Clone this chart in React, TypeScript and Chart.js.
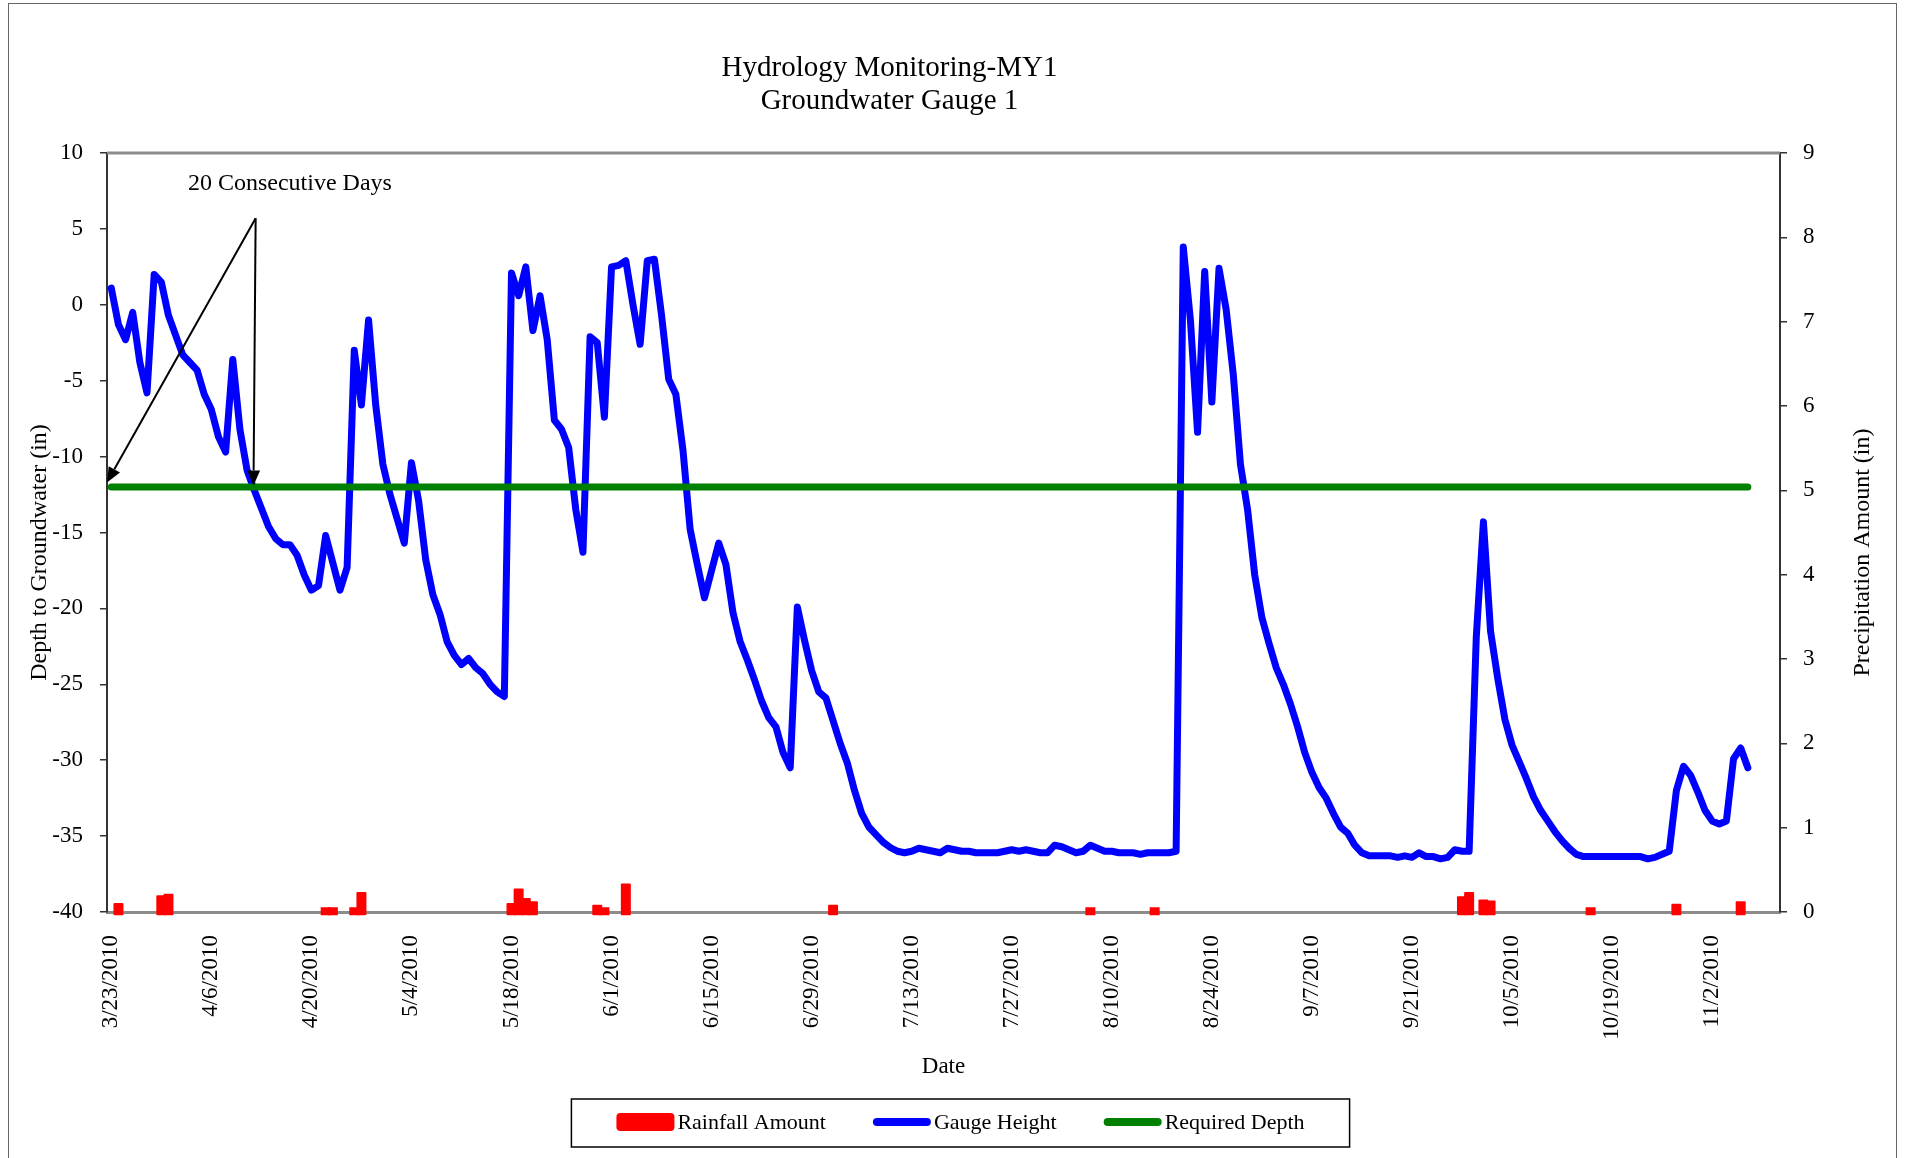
import React, { useEffect, useRef } from "react";
import { Chart, registerables } from "chart.js";

Chart.register(...registerables);

// ---------- data ----------
const START_DATE = "3/23/2010";

const xTickLabels = [
  "3/23/2010", "4/6/2010", "4/20/2010", "5/4/2010", "5/18/2010", "6/1/2010",
  "6/15/2010", "6/29/2010", "7/13/2010", "7/27/2010", "8/10/2010", "8/24/2010",
  "9/7/2010", "9/21/2010", "10/5/2010", "10/19/2010", "11/2/2010",
];

// Gauge height (in), one reading per day starting 3/23/2010
const gaugeHeight = [
  1.1, -1.3, -2.3, -0.5, -3.8, -5.8, 2.0, 1.5, -0.7, -2.0,
  -3.3, -3.8, -4.3, -5.9, -6.9, -8.7, -9.7, -3.6, -8.2, -10.9,
  -12.2, -13.4, -14.6, -15.4, -15.8, -15.8, -16.5, -17.8, -18.8, -18.5,
  -15.2, -17.0, -18.8, -17.3, -3.0, -6.6, -1.0, -6.6, -10.5, -12.5,
  -14.1, -15.7, -10.4, -12.9, -16.8, -19.1, -20.4, -22.2, -23.1, -23.7,
  -23.3, -23.9, -24.3, -25.0, -25.5, -25.8, 2.1, 0.6, 2.5, -1.7,
  0.6, -2.3, -7.6, -8.2, -9.4, -13.5, -16.3, -2.1, -2.5, -7.4,
  2.5, 2.6, 2.9, 0.0, -2.6, 2.9, 3.0, -0.7, -4.9, -5.9,
  -9.6, -14.8, -17.1, -19.3, -17.5, -15.7, -17.1, -20.3, -22.2, -23.4,
  -24.7, -26.1, -27.2, -27.8, -29.5, -30.5, -19.9, -22.1, -24.1, -25.5,
  -25.9, -27.4, -28.9, -30.2, -32.0, -33.5, -34.4, -34.9, -35.4, -35.75,
  -36.0, -36.1, -36.0, -35.8, -35.9, -36.0, -36.1, -35.8, -35.9, -36.0,
  -36.0, -36.1, -36.1, -36.1, -36.1, -36.0, -35.9, -36.0, -35.9, -36.0,
  -36.1, -36.1, -35.6, -35.7, -35.9, -36.1, -36.0, -35.6, -35.8, -36.0,
  -36.0, -36.1, -36.1, -36.1, -36.2, -36.1, -36.1, -36.1, -36.1, -36.0,
  3.8, -1.0, -8.4, 2.2, -6.4, 2.4, -0.3, -4.6, -10.5, -13.5,
  -17.8, -20.6, -22.3, -23.9, -25.0, -26.3, -27.8, -29.5, -30.8, -31.8,
  -32.5, -33.5, -34.4, -34.8, -35.6, -36.1, -36.3, -36.3, -36.3, -36.3,
  -36.4, -36.3, -36.4, -36.1, -36.35, -36.35, -36.5, -36.4, -35.9, -36.0,
  -36.0, -21.9, -14.3, -21.5, -24.6, -27.3, -29.0, -30.1, -31.2, -32.4,
  -33.3, -34.0, -34.7, -35.3, -35.8, -36.2, -36.35, -36.35, -36.35, -36.35,
  -36.35, -36.35, -36.35, -36.35, -36.35, -36.5, -36.4, -36.2, -36.0, -32.0,
  -30.4, -31.0, -32.1, -33.3, -34.0, -34.2, -34.0, -29.9, -29.2, -30.5,
];

const REQUIRED_DEPTH = -12;

// Rainfall (in): dates and amounts
const rainDates = [
  "3/24/2010", "3/30/2010", "3/31/2010", "4/22/2010", "4/23/2010", "4/26/2010",
  "4/27/2010", "5/18/2010", "5/19/2010", "5/20/2010", "5/21/2010", "5/30/2010",
  "5/31/2010", "6/3/2010", "7/2/2010", "8/7/2010", "8/16/2010", "9/28/2010",
  "9/29/2010", "10/1/2010", "10/2/2010", "10/16/2010", "10/28/2010", "11/6/2010",
];
const rainAmounts = [
  0.06, 0.15, 0.17, 0.01, 0.01, 0.01,
  0.19, 0.06, 0.23, 0.12, 0.08, 0.04,
  0.01, 0.29, 0.04, 0.01, 0.01, 0.14,
  0.19, 0.10, 0.09, 0.01, 0.05, 0.08,
];

const leftTicks = [-40, -35, -30, -25, -20, -15, -10, -5, 0, 5, 10];
const rightTicks = [0, 1, 2, 3, 4, 5, 6, 7, 8, 9];

const titleLines = ["Hydrology Monitoring-MY1", "Groundwater Gauge 1"];
const leftTitle = "Depth to Groundwater (in)";
const rightTitle = "Precipitation Amount (in)";
const xTitle = "Date";

const annotationText = "20 Consecutive Days";
const annotationTextAt = { day: 25, value: 8.0 };
const arrowOrigin = { day: 20.2, value: 5.7 };
const arrowTips = [
  { day: -0.6, value: -11.7 },
  { day: 19.9, value: -11.9 },
];

// ---------- helpers ----------
const FONT = "'Liberation Serif', 'Times New Roman', Times, serif";
const DAY_MS = 86400000;
function parseDate(s: string) {
  const [m, d, y] = s.split("/").map(Number);
  return Date.UTC(y, m - 1, d);
}
const START_MS = parseDate(START_DATE);
function toDay(s: string) {
  return Math.round((parseDate(s) - START_MS) / DAY_MS);
}
function dayLabel(day: number) {
  const dt = new Date(START_MS + Math.round(day) * DAY_MS);
  return `${dt.getUTCMonth() + 1}/${dt.getUTCDate()}/${dt.getUTCFullYear()}`;
}

const plotFrame = {
  id: "plotFrame",
  beforeDatasetsDraw(chart: any) {
    const { ctx, chartArea: a } = chart;
    ctx.save();
    ctx.strokeStyle = "#8c8c8c";
    ctx.lineWidth = 3;
    ctx.beginPath();
    ctx.moveTo(a.left, a.top);
    ctx.lineTo(a.right, a.top);
    ctx.stroke();
    ctx.restore();
  },
};

const chartTitle = {
  id: "chartTitle",
  afterDraw(chart: any) {
    const { ctx } = chart;
    ctx.save();
    ctx.fillStyle = "#000";
    ctx.font = `29px ${FONT}`;
    ctx.textAlign = "center";
    ctx.textBaseline = "middle";
    const cx = chart.width / 2 - 63;
    titleLines.forEach((line, i) => {
      ctx.fillText(line, cx, 64 + i * 33);
    });
    ctx.restore();
  },
};

function arrow(ctx: CanvasRenderingContext2D, x0: number, y0: number, x1: number, y1: number) {
  const ang = Math.atan2(y1 - y0, x1 - x0);
  const len = 15;
  const hw = 6.5;
  const bx = x1 - len * Math.cos(ang);
  const by = y1 - len * Math.sin(ang);
  ctx.beginPath();
  ctx.moveTo(x0, y0);
  ctx.lineTo(bx, by);
  ctx.stroke();
  ctx.beginPath();
  ctx.moveTo(x1, y1);
  ctx.lineTo(bx + hw * Math.sin(ang), by - hw * Math.cos(ang));
  ctx.lineTo(bx - hw * Math.sin(ang), by + hw * Math.cos(ang));
  ctx.closePath();
  ctx.fill();
}

const annotations = {
  id: "annotations",
  afterDatasetsDraw(chart: any) {
    const { ctx } = chart;
    const xs = chart.scales.x;
    const ys = chart.scales.y;
    ctx.save();
    ctx.fillStyle = "#000";
    ctx.strokeStyle = "#000";
    ctx.lineWidth = 2;
    ctx.font = `24px ${FONT}`;
    ctx.textAlign = "center";
    ctx.textBaseline = "middle";
    ctx.fillText(annotationText, xs.getPixelForValue(annotationTextAt.day), ys.getPixelForValue(annotationTextAt.value));
    const ox = xs.getPixelForValue(arrowOrigin.day);
    const oy = ys.getPixelForValue(arrowOrigin.value);
    for (const t of arrowTips) {
      arrow(ctx, ox, oy, xs.getPixelForValue(t.day), ys.getPixelForValue(t.value));
    }
    ctx.restore();
  },
};

const axisTitles = {
  id: "axisTitles",
  afterDraw(chart: any) {
    const { ctx, chartArea: a } = chart;
    const cy = (a.top + a.bottom) / 2 + 20;
    ctx.save();
    ctx.fillStyle = "#000";
    ctx.font = `24px ${FONT}`;
    ctx.textAlign = "center";
    ctx.textBaseline = "middle";
    const draw = (text: string, x: number) => {
      ctx.save();
      ctx.translate(x, cy);
      ctx.rotate(-Math.PI / 2);
      ctx.fillText(text, 0, 0);
      ctx.restore();
    };
    draw(leftTitle, a.left - 67);
    draw(rightTitle, a.right + 83);
    ctx.restore();
  },
};

const boxLegend = {
  id: "boxLegend",
  afterDraw(chart: any) {
    const { ctx } = chart;
    const items = chart.data.datasets.map((ds: any) => ({
      label: ds.label,
      color: ds.type === "bar" ? ds.backgroundColor : ds.borderColor,
      bar: ds.type === "bar",
    }));
    ctx.save();
    ctx.font = `22px ${FONT}`;
    const sw = 58;
    const gap = 3;
    const itemGap = 47;
    const pad = 45;
    const widths = items.map((it: any) => sw + gap + ctx.measureText(it.label).width);
    const inner = widths.reduce((s: number, w: number) => s + w, 0) + itemGap * (items.length - 1);
    const boxW = inner + pad * 2;
    const boxH = 48;
    const cx = chart.width / 2 + 8;
    const left = cx - boxW / 2;
    const top = chart.height - 51;
    ctx.strokeStyle = "#000";
    ctx.lineWidth = 1.5;
    ctx.strokeRect(left, top, boxW, boxH);
    const cy = top + 23;
    let x = left + pad;
    items.forEach((it: any, i: number) => {
      if (it.bar) {
        ctx.fillStyle = it.color;
        ctx.beginPath();
        (ctx as any).roundRect(x, cy - 9, sw, 18, 4);
        ctx.fill();
      } else {
        ctx.strokeStyle = it.color;
        ctx.lineWidth = 8;
        ctx.lineCap = "round";
        ctx.beginPath();
        ctx.moveTo(x + 4, cy);
        ctx.lineTo(x + sw - 4, cy);
        ctx.stroke();
      }
      ctx.fillStyle = "#000";
      ctx.textAlign = "left";
      ctx.textBaseline = "middle";
      ctx.fillText(it.label, x + sw + gap, cy + 1);
      x += widths[i] + itemGap;
    });
    ctx.restore();
  },
};

const CANVAS_W = 1887;
const CANVAS_H = 1146;

export default function App() {
  const ref = useRef<HTMLCanvasElement>(null);

  useEffect(() => {
    if (!ref.current) return;
    const gaugePoints = gaugeHeight.map((v, i) => ({ x: i, y: v }));
    const requiredPoints = gaugeHeight.map((_, i) => ({ x: i, y: REQUIRED_DEPTH }));
    const rainPoints = rainDates.map((d, i) => ({ x: toDay(d), y: rainAmounts[i] }));
    const tickDays = xTickLabels.map(toDay);

    const chart = new Chart(ref.current, {
      type: "line",
      data: {
        datasets: [
          {
            type: "bar",
            label: "Rainfall Amount",
            data: rainPoints,
            yAxisID: "y2",
            backgroundColor: "#FF0000",
            barThickness: 2,
            inflateAmount: 4,
            borderRadius: 4,
            borderSkipped: false,
            order: 3,
            clip: 10,
          } as any,
          {
            type: "line",
            label: "Gauge Height",
            data: gaugePoints,
            yAxisID: "y",
            borderColor: "#0000FF",
            backgroundColor: "#0000FF",
            borderWidth: 7,
            pointRadius: 0,
            tension: 0,
            borderJoinStyle: "round",
            borderCapStyle: "round",
            order: 2,
          },
          {
            type: "line",
            label: "Required Depth",
            data: requiredPoints,
            yAxisID: "y",
            borderColor: "#008000",
            backgroundColor: "#008000",
            borderWidth: 7,
            pointRadius: 0,
            borderCapStyle: "round",
            order: 1,
          },
        ],
      },
      options: {
        responsive: false,
        animation: false,
        events: [],
        layout: { padding: { top: 149, left: 0, right: 0, bottom: 66 } },
        plugins: {
          legend: { display: false },
          tooltip: { enabled: false },
          title: { display: false },
        },
        scales: {
          x: {
            type: "linear",
            min: -0.6,
            max: 233.5,
            offset: false,
            afterBuildTicks: (s: any) => {
              s.ticks = tickDays.map((v) => ({ value: v }));
            },
            afterFit: (s: any) => {
              s.height = 172;
            },
            ticks: {
              autoSkip: false,
              minRotation: 90,
              maxRotation: 90,
              padding: 23,
              color: "#000",
              font: { family: FONT, size: 23 },
              callback: (v: any) => dayLabel(Number(v)),
            },
            grid: { display: false, drawTicks: false },
            border: { display: true, color: "#8c8c8c", width: 3 },
            title: {
              display: true,
              text: xTitle,
              color: "#000",
              font: { family: FONT, size: 23 },
              padding: { top: 0, bottom: 3 },
            },
          },
          y: {
            type: "linear",
            position: "left",
            min: -40,
            max: 10,
            afterBuildTicks: (s: any) => {
              s.ticks = leftTicks.map((v) => ({ value: v }));
            },
            afterFit: (s: any) => {
              s.width = 98;
            },
            ticks: {
              padding: 17,
              color: "#000",
              font: { family: FONT, size: 23 },
            },
            grid: { drawOnChartArea: false, drawTicks: true, tickLength: 7, color: "#333", lineWidth: 1.5 },
            border: { display: true, color: "#333", width: 2 },
          },
          y2: {
            type: "linear",
            position: "right",
            min: 0,
            max: 9,
            afterBuildTicks: (s: any) => {
              s.ticks = rightTicks.map((v) => ({ value: v }));
            },
            afterFit: (s: any) => {
              s.width = 116;
            },
            ticks: {
              padding: 16,
              color: "#000",
              font: { family: FONT, size: 23 },
            },
            grid: { drawOnChartArea: false, drawTicks: true, tickLength: 7, color: "#333", lineWidth: 1.5 },
            border: { display: true, color: "#333", width: 2 },
          },
        },
      },
      plugins: [plotFrame, annotations, axisTitles, chartTitle, boxLegend],
    } as any);

    return () => chart.destroy();
  }, []);

  return (
    <div
      style={{
        position: "absolute",
        left: 8,
        top: 3,
        width: CANVAS_W,
        height: CANVAS_H + 12,
        borderTop: "1px solid #666",
        borderLeft: "1px solid #666",
        borderRight: "1px solid #666",
        background: "#fff",
        overflow: "hidden",
      }}
    >
      <canvas ref={ref} width={CANVAS_W} height={CANVAS_H} style={{ display: "block", width: CANVAS_W, height: CANVAS_H }} />
    </div>
  );
}
